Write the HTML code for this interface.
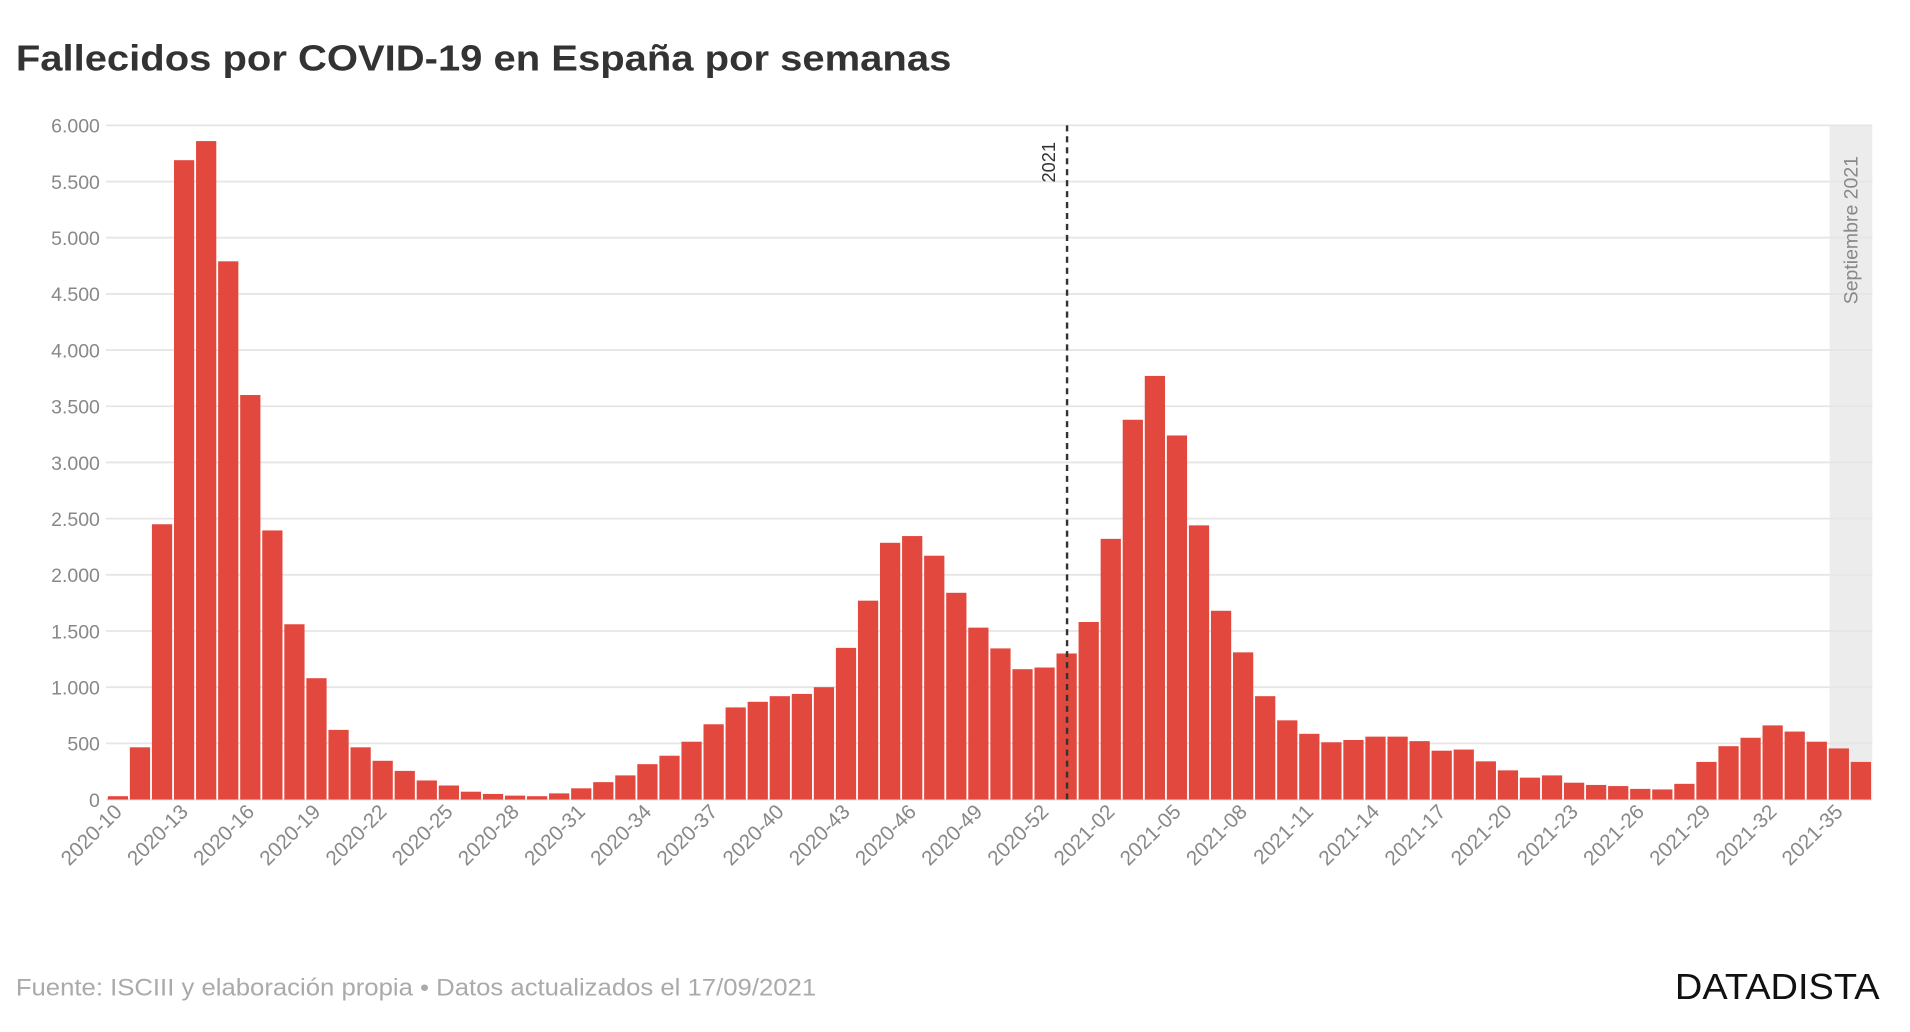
<!DOCTYPE html>
<html><head><meta charset="utf-8"><style>
html,body{margin:0;padding:0;background:#fff;}
svg{display:block;font-family:"Liberation Sans",sans-serif;}
</style></head><body>
<svg id="chart" width="1910" height="1032" viewBox="0 0 1568 848" preserveAspectRatio="none">
<text x="13" y="58" font-size="30" font-weight="bold" fill="#333" textLength="768" lengthAdjust="spacingAndGlyphs">Fallecidos por COVID-19 en España por semanas</text>
<rect x="1502" y="103" width="35" height="554" fill="#ececec"/>
<g id="grid"></g>
<g id="bars"></g>
<g id="xlabels"></g>
<line x1="876" y1="103" x2="876" y2="660" stroke="#333" stroke-width="2" stroke-dasharray="5,4"/>
<text transform="translate(866,150) rotate(-90)" font-size="15" fill="#333">2021</text>
<text transform="translate(1525,250) rotate(-90)" font-size="16" fill="#888">Septiembre 2021</text>
<text x="13" y="818" font-size="20" fill="#aaa" textLength="657" lengthAdjust="spacingAndGlyphs">Fuente: ISCIII y elaboración propia • Datos actualizados el 17/09/2021</text>
<text x="1543" y="821" font-size="30" fill="#111" text-anchor="end" textLength="168" lengthAdjust="spacingAndGlyphs">DATADISTA</text>
</svg>
<script>
const values2020 = [30,465,2450,5690,5860,4790,3600,2395,1560,1080,620,465,345,255,170,125,70,50,35,30,55,100,155,215,315,390,515,670,820,870,920,940,1000,1350,1770,2285,2345,2170,1840,1530,1345,1160,1175,1300];
const values2021 = [1580,2320,3380,3770,3240,2440,1680,1310,920,705,585,510,530,560,560,520,435,445,340,260,195,215,150,130,120,95,90,140,335,475,550,660,605,515,455,335];
const yTicks = [0,500,1000,1500,2000,2500,3000,3500,4000,4500,5000,5500,6000];
const yTickLabels = ["0","500","1.000","1.500","2.000","2.500","3.000","3.500","4.000","4.500","5.000","5.500","6.000"];
const categories = [];
for (let w=10; w<=53; w++) categories.push("2020-"+String(w).padStart(2,"0"));
for (let w=1; w<=36; w++) categories.push("2021-"+String(w).padStart(2,"0"));
const values = values2020.concat(values2021);
const NS="http://www.w3.org/2000/svg";
const x0=88, x1=1537, y0=657, yTop=103, ymax=6000;
const step=(x1-x0)/categories.length;
function xs(i){return x0+i*step;}
function ys(v){return y0-(v/ymax)*(y0-yTop);}
const grid=document.getElementById("grid");
yTicks.forEach((t,i)=>{
  const l=document.createElementNS(NS,"line");
  l.setAttribute("x1",x0-1);l.setAttribute("x2",x1);l.setAttribute("y1",ys(t));l.setAttribute("y2",ys(t));
  l.setAttribute("stroke","#e6e6e6");l.setAttribute("stroke-width","1.5");
  
  
  grid.appendChild(l);
  const tx=document.createElementNS(NS,"text");
  tx.setAttribute("x",82);tx.setAttribute("y",ys(t)+6);tx.setAttribute("text-anchor","end");
  tx.setAttribute("font-size","16");tx.setAttribute("fill","#888");
  tx.textContent=yTickLabels[i];
  
  
  grid.appendChild(tx);
});
const bars=document.getElementById("bars");
values.forEach((v,i)=>{
  const r=document.createElementNS(NS,"rect");
  r.setAttribute("x",xs(i)+0.5);r.setAttribute("width",step-1.5);
  r.setAttribute("y",ys(v));r.setAttribute("height",y0-ys(v));
  r.setAttribute("fill","#e2483d");
  
  
  bars.appendChild(r);
});
const xl=document.getElementById("xlabels");
categories.forEach((c,i)=>{
  if(i%3!==0) return;
  const cx=xs(i)+step/2;
  const t=document.createElementNS(NS,"text");
  t.setAttribute("transform","translate("+(cx+4)+",668) rotate(-45)");
  t.setAttribute("text-anchor","end");t.setAttribute("font-size","17");t.setAttribute("fill","#888");
  t.textContent=c;
  
  
  xl.appendChild(t);
});
</script>
</body></html>
